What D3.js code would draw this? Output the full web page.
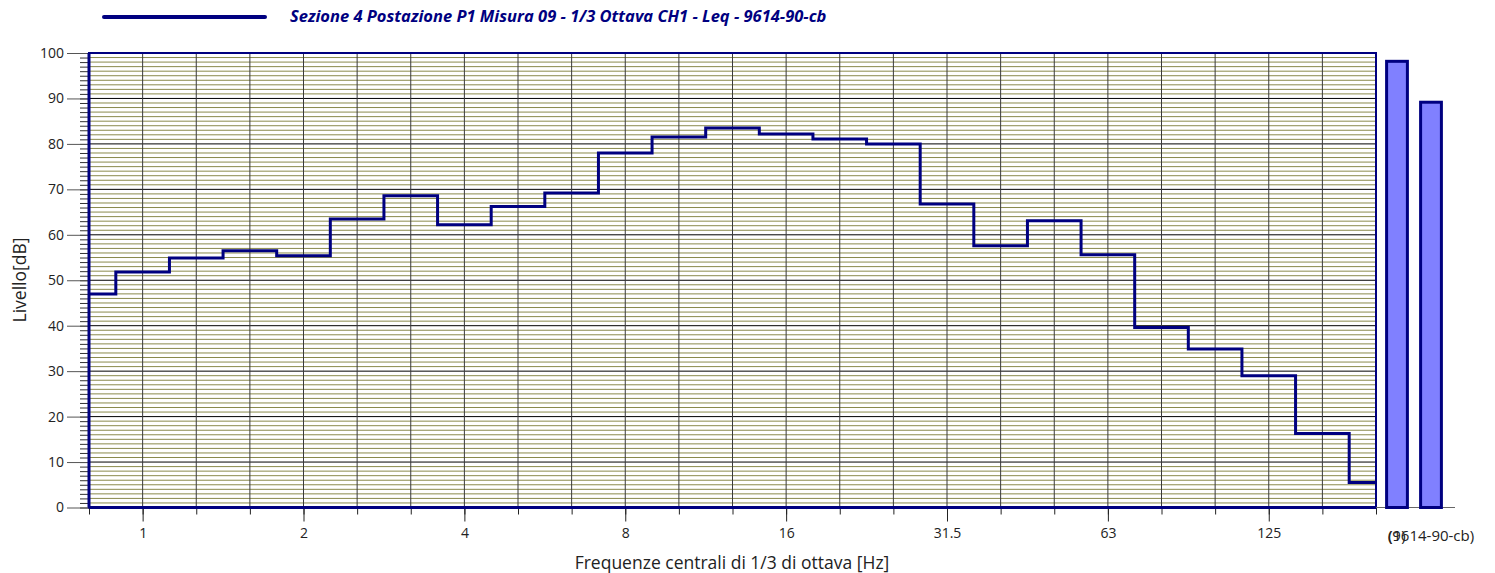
<!DOCTYPE html>
<html>
<head>
<meta charset="utf-8">
<script src="https://cdn.jsdelivr.net/npm/d3@7"></script>
<style>
  body { margin: 0; background: #fff; }
  svg { display: block; font-family: "Open Sans", sans-serif; }
</style>
</head>
<body>
<div id="chart"></div>
<script>
// 1/3 octave band centres (Hz) and measured Leq per band
const bands = ["0.8", "1", "1.25", "1.6", "2", "2.5", "3.15", "4", "5", "6.3", "8", "10", "12.5",
    "16", "20", "25", "31.5", "40", "50", "63", "80", "100", "125", "160", "200"];
const levels = [47.0, 51.8, 54.9, 56.5, 55.4, 63.5, 68.6, 62.2, 66.2, 69.2, 78.0, 81.5, 83.5,
    82.2, 81.1, 80.0, 66.8, 57.6, 63.1, 55.6, 39.6, 34.9, 29.0, 16.3, 5.5];
const labelledBands = ["1", "2", "4", "8", "16", "31.5", "63", "125"];

// global level bars on the right
const totalLabels = ["(1)", "(9614-90-cb)"];
const totalValues = [98.5, 89.5];

const seriesName = "Sezione 4 Postazione P1 Misura 09 - 1/3 Ottava CH1 - Leq - 9614-90-cb";
const yTicks = d3.range(0, 101, 10);

const width = 1495, height = 573;
const margin = { top: 53, right: 119, bottom: 65, left: 89 };
const navy = "#000080";

const svg = d3.select("#chart").append("svg")
    .attr("width", width)
    .attr("height", height);

const x = d3.scalePoint()
    .domain(bands)
    .range([margin.left, width - margin.right]);

const y = d3.scaleLinear()
    .domain([0, 100])
    .range([height - margin.bottom - 0.5, margin.top]);

// horizontal grid, 1 dB olive lines and 10 dB black lines
svg.append("g")
    .selectAll("line")
    .data(d3.range(1, 100).filter(v => v % 10 !== 0))
    .enter().append("line")
    .attr("x1", margin.left).attr("x2", width - margin.right)
    .attr("y1", d => y(d)).attr("y2", d => y(d))
    .attr("stroke", "#8a8a4c")
    .attr("stroke-width", 1);

svg.append("g")
    .selectAll("line")
    .data(yTicks.filter(v => v > 0 && v < 100))
    .enter().append("line")
    .attr("x1", margin.left).attr("x2", width - margin.right)
    .attr("y1", d => y(d)).attr("y2", d => y(d))
    .attr("stroke", "#000")
    .attr("stroke-width", 1);

// vertical grid at every band centre
svg.append("g")
    .selectAll("line")
    .data(bands)
    .enter().append("line")
    .attr("x1", d => x(d)).attr("x2", d => x(d))
    .attr("y1", y(0)).attr("y2", y(100))
    .attr("stroke", "#3a3a3a")
    .attr("stroke-width", 1);

// y axis: minor ticks every dB, major every 10 dB
const yMinor = svg.append("g")
    .attr("transform", `translate(${margin.left},0)`)
    .call(d3.axisLeft(y).tickValues(d3.range(0, 101)).tickSize(9).tickFormat(""));
yMinor.select(".domain").remove();
yMinor.selectAll("line").attr("stroke", "#333");

const yMajor = svg.append("g")
    .attr("transform", `translate(${margin.left},0)`)
    .call(d3.axisLeft(y).tickValues(yTicks).tickSize(22).tickPadding(3));
yMajor.select(".domain").remove();
yMajor.selectAll("line").attr("stroke", "#555");
yMajor.selectAll("text")
    .attr("font-family", "Open Sans, sans-serif")
    .attr("font-size", 14)
    .attr("fill", "#222");

// x axis: short ticks on every band, long labelled ticks on octaves
const xMinor = svg.append("g")
    .attr("transform", `translate(0,${y(0)})`)
    .call(d3.axisBottom(x).tickSize(7).tickFormat(""));
xMinor.select(".domain").remove();
xMinor.selectAll("line").attr("stroke", "#222");

const xMajor = svg.append("g")
    .attr("transform", `translate(0,${y(0)})`)
    .call(d3.axisBottom(x).tickValues(labelledBands).tickSize(14).tickPadding(7));
xMajor.select(".domain").remove();
xMajor.selectAll("line").attr("stroke", "#222");
xMajor.selectAll("text")
    .attr("font-family", "Open Sans, sans-serif")
    .attr("font-size", 14)
    .attr("fill", "#222");

// plot frame
svg.append("rect")
    .attr("x", margin.left).attr("y", y(100))
    .attr("width", x("200") - margin.left)
    .attr("height", y(0) - y(100))
    .attr("fill", "none")
    .attr("stroke", navy)
    .attr("stroke-width", 2);

svg.append("line")
    .attr("x1", margin.left).attr("x2", margin.left)
    .attr("y1", y(100)).attr("y2", y(0))
    .attr("stroke", navy).attr("stroke-width", 3);

svg.append("line")
    .attr("x1", margin.left).attr("x2", x("200"))
    .attr("y1", y(0)).attr("y2", y(0))
    .attr("stroke", navy).attr("stroke-width", 3);

// stepped spectrum
const line = d3.line()
    .curve(d3.curveStep)
    .x((d, i) => x(bands[i]))
    .y(d => y(d));

svg.append("path")
    .datum(levels)
    .attr("fill", "none")
    .attr("stroke", navy)
    .attr("stroke-width", 3)
    .attr("stroke-linejoin", "miter")
    .attr("d", line);

// overall level bars
const xb = d3.scaleBand()
    .domain(totalLabels)
    .range([1380, 1448])
    .paddingInner(0.3)
    .paddingOuter(0.15);

svg.append("line")
    .attr("x1", x("200")).attr("x2", 1455)
    .attr("y1", y(0)).attr("y2", y(0))
    .attr("stroke", "#666").attr("stroke-width", 1);

svg.append("g")
    .selectAll("rect")
    .data(totalValues)
    .enter().append("rect")
    .attr("x", (d, i) => xb(totalLabels[i]) + 1.5)
    .attr("y", d => y(d) + 1.5)
    .attr("width", xb.bandwidth() - 3)
    .attr("height", d => y(0) - y(d) - 1.5)
    .attr("fill", "#8080ff")
    .attr("stroke", navy)
    .attr("stroke-width", 3);

// bar labels (they overlap in the original)
svg.append("g")
    .selectAll("text")
    .data(totalLabels)
    .enter().append("text")
    .attr("x", d => xb(d) + xb.bandwidth() / 2)
    .attr("y", 541)
    .attr("text-anchor", "middle")
    .attr("font-size", 15)
    .attr("fill", "#222")
    .text(d => d);

// axis titles
svg.append("text")
    .attr("x", 732)
    .attr("y", 569)
    .attr("text-anchor", "middle")
    .attr("font-size", 17.5)
    .attr("fill", "#222")
    .text("Frequenze centrali di 1/3 di ottava [Hz]");

svg.append("text")
    .attr("transform", "translate(26,280) rotate(-90)")
    .attr("text-anchor", "middle")
    .attr("font-size", 17.5)
    .attr("fill", "#222")
    .text("Livello[dB]");

// legend
svg.append("line")
    .attr("x1", 104).attr("x2", 265)
    .attr("y1", 17).attr("y2", 17)
    .attr("stroke", navy)
    .attr("stroke-width", 4)
    .attr("stroke-linecap", "round");

svg.append("text")
    .attr("x", 290)
    .attr("y", 22)
    .attr("font-size", 16.5)
    .attr("font-weight", "bold")
    .attr("font-style", "italic")
    .attr("fill", navy)
    .text(seriesName);
</script>
</body>
</html>
